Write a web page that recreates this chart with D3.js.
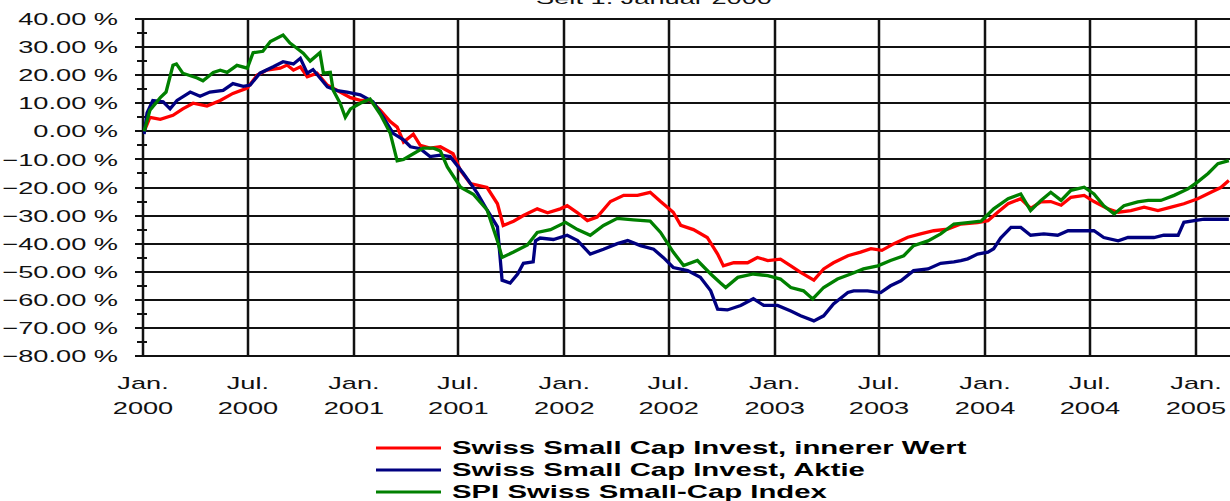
<!DOCTYPE html>
<html>
<head>
<meta charset="utf-8">
<script src="https://cdn.jsdelivr.net/npm/d3@7"></script>
<style>
  body { margin: 0; background: #fff; }
  svg { display: block; }
</style>
</head>
<body>
<script>
// values in % since 1 Jan 2000
const innererWert = [
  ["2000-01-03", 0], ["2000-01-13", 5], ["2000-01-31", 4.3], ["2000-02-22", 5.7], ["2000-03-10", 8],
  ["2000-03-28", 10], ["2000-04-21", 9], ["2000-05-14", 11], ["2000-06-05", 13.5], ["2000-06-30", 15.4],
  ["2000-07-17", 20], ["2000-08-03", 21.8], ["2000-08-26", 22.5], ["2000-09-07", 23.6], ["2000-09-18", 21.8],
  ["2000-09-30", 23], ["2000-10-12", 19.4], ["2000-10-29", 20.7], ["2000-11-16", 16.4], ["2000-12-08", 14],
  ["2000-12-26", 12], ["2001-01-12", 11], ["2001-01-29", 11], ["2001-02-16", 7.5], ["2001-03-05", 3.5],
  ["2001-03-17", 1.5], ["2001-03-28", -3.8], ["2001-04-14", -1], ["2001-04-26", -5], ["2001-05-13", -6],
  ["2001-05-31", -5.5], ["2001-06-22", -8], ["2001-07-05", -14], ["2001-07-22", -18.6], ["2001-08-20", -20],
  ["2001-09-07", -25.8], ["2001-09-17", -33.5], ["2001-10-05", -32], ["2001-10-22", -30], ["2001-11-15", -27.6],
  ["2001-12-03", -29], ["2001-12-25", -27.6], ["2002-01-06", -26.5], ["2002-01-24", -29], ["2002-02-10", -31.8],
  ["2002-02-27", -30.5], ["2002-03-22", -25], ["2002-04-14", -22.8], ["2002-05-08", -22.8], ["2002-05-30", -21.7],
  ["2002-06-17", -25], ["2002-07-09", -28.8], ["2002-07-22", -33.5], ["2002-08-13", -35], ["2002-09-06", -37.8],
  ["2002-09-24", -43.7], ["2002-10-04", -47.9], ["2002-10-22", -46.8], ["2002-11-15", -46.8], ["2002-12-02", -44.9],
  ["2002-12-20", -46], ["2003-01-11", -45.5], ["2003-01-29", -47.9], ["2003-02-15", -50.2], ["2003-03-10", -53],
  ["2003-03-27", -49], ["2003-04-13", -46.8], ["2003-05-08", -44.3], ["2003-05-30", -43], ["2003-06-17", -41.8],
  ["2003-07-06", -42.4], ["2003-07-27", -40], ["2003-08-20", -37.7], ["2003-09-11", -36.5], ["2003-10-04", -35.4],
  ["2003-10-28", -34.8], ["2003-11-20", -33], ["2003-12-19", -32.5], ["2004-01-06", -31.8], ["2004-01-23", -28.8],
  ["2004-02-10", -25.8], ["2004-03-03", -24], ["2004-03-20", -27.4], ["2004-04-07", -25.1], ["2004-04-24", -25],
  ["2004-05-12", -26.3], ["2004-05-29", -23.5], ["2004-06-21", -22.8], ["2004-07-08", -25], ["2004-08-01", -27.6],
  ["2004-08-19", -28.8], ["2004-09-10", -28.2], ["2004-10-03", -27], ["2004-10-27", -28.2], ["2004-11-19", -27],
  ["2004-12-11", -25.8], ["2005-01-04", -24], ["2005-01-27", -21.7], ["2005-02-13", -20], ["2005-02-27", -17.5]
];

const aktie = [
  ["2000-01-03", -1], ["2000-01-08", 6.5], ["2000-01-18", 11], ["2000-02-05", 10.5], ["2000-02-17", 8],
  ["2000-02-29", 11], ["2000-03-23", 14], ["2000-04-09", 12.5], ["2000-04-26", 14], ["2000-05-19", 14.6],
  ["2000-06-05", 17], ["2000-06-23", 16], ["2000-07-05", 16.5], ["2000-07-22", 20.7], ["2000-08-14", 23],
  ["2000-08-31", 24.8], ["2000-09-18", 24], ["2000-09-30", 26], ["2000-10-12", 20.7], ["2000-10-22", 22],
  ["2000-11-16", 15.8], ["2000-12-03", 14.5], ["2000-12-20", 14], ["2001-01-12", 13], ["2001-02-03", 10.5],
  ["2001-02-21", 5], ["2001-03-10", -0.7], ["2001-03-28", -3], ["2001-04-09", -5.5], ["2001-04-26", -6.2],
  ["2001-05-13", -9], ["2001-05-31", -8.5], ["2001-06-17", -9], ["2001-07-10", -15], ["2001-08-03", -22],
  ["2001-08-20", -28], ["2001-09-07", -34], ["2001-09-15", -53], ["2001-09-29", -54], ["2001-10-12", -50.8],
  ["2001-10-22", -47], ["2001-11-08", -46.5], ["2001-11-12", -39], ["2001-11-20", -38], ["2001-12-13", -38.5],
  ["2002-01-06", -37], ["2002-01-24", -38.9], ["2002-02-15", -43.7], ["2002-03-10", -42], ["2002-04-03", -40],
  ["2002-04-21", -38.9], ["2002-05-13", -40.7], ["2002-06-05", -42], ["2002-06-22", -45], ["2002-07-09", -48.5],
  ["2002-08-03", -49.6], ["2002-08-25", -52], ["2002-09-12", -56.8], ["2002-09-24", -63.3], ["2002-10-11", -63.6],
  ["2002-11-03", -62], ["2002-11-25", -59.6], ["2002-12-13", -62], ["2003-01-06", -62], ["2003-01-29", -64],
  ["2003-02-15", -65.7], ["2003-03-10", -67.5], ["2003-03-27", -65.7], ["2003-04-13", -61.5], ["2003-05-08", -57.4],
  ["2003-05-18", -56.8], ["2003-06-11", -56.8], ["2003-07-04", -57.4], ["2003-07-21", -55], ["2003-08-08", -53.2],
  ["2003-08-30", -49.6], ["2003-09-24", -49], ["2003-10-16", -47], ["2003-11-08", -46.5], ["2003-11-20", -46],
  ["2003-12-02", -45.4], ["2003-12-19", -43.7], ["2004-01-06", -43], ["2004-01-16", -41.8], ["2004-01-28", -38],
  ["2004-02-15", -34.2], ["2004-03-03", -34.2], ["2004-03-20", -37], ["2004-04-12", -36.5], ["2004-05-06", -37],
  ["2004-05-24", -35.4], ["2004-06-15", -35.4], ["2004-07-08", -35.4], ["2004-07-25", -37.8], ["2004-08-19", -39],
  ["2004-09-05", -37.8], ["2004-09-27", -37.8], ["2004-10-20", -37.8], ["2004-11-06", -37], ["2004-12-01", -37],
  ["2004-12-11", -32.4], ["2004-12-29", -31.8], ["2005-01-15", -31.3], ["2005-02-08", -31.3], ["2005-02-27", -31.3]
];

const spiIndex = [
  ["2000-01-03", 0], ["2000-01-13", 7.5], ["2000-01-31", 12], ["2000-02-10", 14], ["2000-02-22", 23.5],
  ["2000-02-28", 24], ["2000-03-10", 20.7], ["2000-04-04", 19], ["2000-04-14", 18], ["2000-05-02", 21],
  ["2000-05-14", 21.8], ["2000-05-26", 21], ["2000-06-12", 23.5], ["2000-06-30", 22.5], ["2000-07-10", 28],
  ["2000-07-27", 28.5], ["2000-08-09", 32], ["2000-08-31", 34.3], ["2000-09-12", 31.4], ["2000-09-24", 29.6],
  ["2000-10-05", 27.8], ["2000-10-17", 25], ["2000-11-03", 28], ["2000-11-09", 20.7], ["2000-11-21", 21],
  ["2000-11-26", 14.6], ["2000-12-08", 10], ["2000-12-17", 5], ["2000-12-26", 8], ["2001-01-12", 10],
  ["2001-01-29", 11.5], ["2001-02-16", 6], ["2001-03-05", -0.7], ["2001-03-17", -10.5], ["2001-03-28", -10],
  ["2001-04-14", -8], ["2001-05-01", -6], ["2001-05-19", -6], ["2001-05-31", -7], ["2001-06-12", -12.7],
  ["2001-07-05", -19.9], ["2001-07-27", -22.4], ["2001-08-20", -28], ["2001-09-07", -39], ["2001-09-15", -44.9],
  ["2001-10-05", -43], ["2001-10-29", -40.5], ["2001-11-15", -36], ["2001-12-08", -35], ["2002-01-03", -32.4],
  ["2002-01-24", -35], ["2002-02-15", -37], ["2002-03-10", -33.5], ["2002-04-03", -31], ["2002-05-01", -31.5],
  ["2002-05-30", -32], ["2002-06-17", -36], ["2002-07-09", -43], ["2002-07-27", -47.8], ["2002-08-20", -46],
  ["2002-09-12", -50.8], ["2002-09-29", -54], ["2002-10-08", -55.6], ["2002-10-29", -52], ["2002-11-25", -50.8],
  ["2002-12-20", -51.4], ["2003-01-11", -52.6], ["2003-01-29", -55.6], ["2003-02-20", -56.8], ["2003-03-08", -59.7],
  ["2003-03-27", -55.6], ["2003-04-20", -52.6], ["2003-05-13", -50.8], ["2003-06-04", -49], ["2003-06-29", -47.9],
  ["2003-07-21", -46], ["2003-08-13", -44.3], ["2003-08-30", -40.7], ["2003-09-24", -39], ["2003-10-16", -36.5],
  ["2003-11-08", -33], ["2003-12-02", -32.5], ["2003-12-25", -32], ["2004-01-16", -27.6], ["2004-02-10", -24],
  ["2004-03-03", -22.3], ["2004-03-20", -28.2], ["2004-04-07", -24.6], ["2004-04-24", -21.7], ["2004-05-12", -24.6],
  ["2004-05-29", -21], ["2004-06-21", -19.9], ["2004-07-08", -22.3], ["2004-07-25", -26.5], ["2004-08-12", -29.4],
  ["2004-08-29", -26.5], ["2004-09-22", -25.1], ["2004-10-10", -24.6], ["2004-11-01", -24.6], ["2004-11-24", -22.8],
  ["2004-12-18", -20.5], ["2005-01-04", -18], ["2005-01-22", -15], ["2005-02-08", -11.5], ["2005-02-27", -10.4]
];

const seriesNames = [
  "Swiss Small Cap Invest, innerer Wert",
  "Swiss Small Cap Invest, Aktie",
  "SPI Swiss Small-Cap Index"
];
const title = "Seit 1. Januar 2000";
const yTicks = [40, 30, 20, 10, 0, -10, -20, -30, -40, -50, -60, -70, -80];
const xTicks = ["2000-01-01", "2000-07-01", "2001-01-01", "2001-07-01", "2002-01-01", "2002-07-01",
  "2003-01-01", "2003-07-01", "2004-01-01", "2004-07-01", "2005-01-01"];
const monthNames = { 0: "Jan.", 6: "Jul." };

const colors = ["#ff0000", "#000080", "#008000"];
const width = 1230;
const height = 501;
const margin = { top: 19, right: 0, bottom: 145, left: 143 };
const stretch = 1.6; // the picture's text is drawn wide
const font = "'Liberation Sans', Arial, sans-serif";

const parse = d3.utcParse("%Y-%m-%d");
const series = [innererWert, aktie, spiIndex].map(s => s.map(([d, v]) => ({ date: parse(d), value: v })));

const x = d3.scaleUtc()
  .domain([parse("2000-01-01"), parse("2005-03-01")])
  .range([margin.left, width - margin.right]);

const y = d3.scaleLinear()
  .domain([-80, 40])
  .range([height - margin.bottom, margin.top]);

const svg = d3.select("body").append("svg")
  .attr("width", width)
  .attr("height", height)
  .style("font-family", font);

// title, mostly cut off at the top as in the picture
svg.append("text")
  .attr("transform", `translate(654,4) scale(${stretch},1)`)
  .attr("text-anchor", "middle")
  .attr("font-size", 17)
  .attr("fill", "#111")
  .text(title);

// horizontal grid, also the major y ticks
svg.append("g")
  .attr("shape-rendering", "crispEdges")
  .selectAll("line")
  .data(yTicks)
  .join("line")
  .attr("x1", margin.left - 8)
  .attr("x2", width)
  .attr("y1", d => Math.round(y(d)))
  .attr("y2", d => Math.round(y(d)))
  .attr("stroke", "#111")
  .attr("stroke-width", 2);

// minor y ticks
svg.append("g")
  .attr("shape-rendering", "crispEdges")
  .selectAll("line")
  .data(yTicks.slice(1).map(d => d + 5))
  .join("line")
  .attr("x1", margin.left - 6)
  .attr("x2", margin.left + 4)
  .attr("y1", d => Math.round(y(d)))
  .attr("y2", d => Math.round(y(d)))
  .attr("stroke", "#111")
  .attr("stroke-width", 2);

// vertical grid
svg.append("g")
  .selectAll("line")
  .data(xTicks.map(parse))
  .join("line")
  .attr("x1", d => Math.round(x(d)))
  .attr("x2", d => Math.round(x(d)))
  .attr("y1", y(40))
  .attr("y2", y(-80))
  .attr("stroke", "#111")
  .attr("stroke-width", 2.5);

// y labels
svg.append("g")
  .selectAll("text")
  .data(yTicks)
  .join("text")
  .attr("transform", d => `translate(118,${y(d)}) scale(${stretch},1)`)
  .attr("text-anchor", "end")
  .attr("dy", "0.36em")
  .attr("font-size", 17)
  .attr("fill", "#111")
  .text(d => d3.format(".2f")(d) + " %");

// x labels
const xl = svg.append("g")
  .selectAll("g")
  .data(xTicks.map(parse))
  .join("g")
  .attr("transform", d => `translate(${x(d)},0)`);
xl.append("text")
  .attr("transform", `translate(0,389) scale(${stretch},1)`)
  .attr("text-anchor", "middle")
  .attr("font-size", 17)
  .attr("fill", "#111")
  .text(d => monthNames[d.getUTCMonth()]);
xl.append("text")
  .attr("transform", `translate(0,414) scale(${stretch},1)`)
  .attr("text-anchor", "middle")
  .attr("font-size", 17)
  .attr("fill", "#111")
  .text(d => d.getUTCFullYear());

svg.append("clipPath")
  .attr("id", "clip")
  .append("rect")
  .attr("x", margin.left)
  .attr("y", margin.top - 3)
  .attr("width", width - margin.left)
  .attr("height", y(-80) - margin.top + 3);

const line = d3.line()
  .x(d => x(d.date))
  .y(d => y(d.value));

svg.append("g")
  .attr("clip-path", "url(#clip)")
  .selectAll("path")
  .data(series)
  .join("path")
  .attr("fill", "none")
  .attr("stroke", (d, i) => colors[i])
  .attr("stroke-width", 3.3)
  .attr("stroke-linejoin", "miter")
  .attr("d", line);

// legend
const lg = svg.append("g")
  .selectAll("g")
  .data(seriesNames)
  .join("g")
  .attr("transform", (d, i) => `translate(0,${448 + i * 22})`);
lg.append("line")
  .attr("x1", 376)
  .attr("x2", 441)
  .attr("stroke", (d, i) => colors[i])
  .attr("stroke-width", 3);
lg.append("text")
  .attr("transform", `translate(452,6) scale(1.63,1)`)
  .attr("font-size", 18)
  .attr("font-weight", "bold")
  .attr("fill", "#000")
  .text(d => d);
</script>
</body>
</html>
